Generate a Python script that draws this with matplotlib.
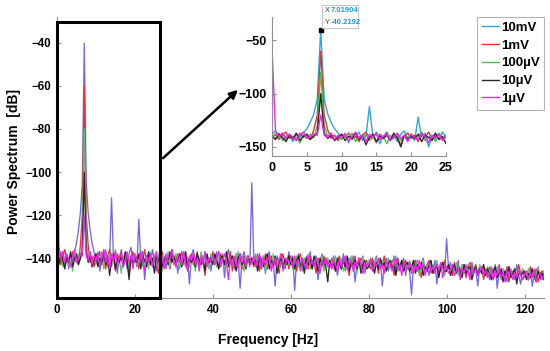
import numpy as np
import matplotlib
matplotlib.use("Agg")
import matplotlib.pyplot as plt
from matplotlib.patches import Rectangle

plt.rcParams['font.family'] = ['Liberation Sans', 'DejaVu Sans']
plt.rcParams['font.weight'] = 'bold'

# frequency grid, 0.5 Hz bins from 0 to 125 Hz
freq = np.linspace(0, 125, 251)

labels = ['10mV', '1mV', '100µV', '10µV', '1µV']

# power spectra in dB (10 Hz per row)
spec_10mV = [
    -138, -135, -141, -137, -143, -139, -145, -138, -141, -137, -133, -127, -119, -105, -40.2192, -105, -119, -127, -133, -137,
    -142, -137, -146, -139, -141, -136, -144, -140, -112, -141, -138, -147, -140, -136, -143, -139, -145, -138, -135, -142,
    -139, -144, -122, -141, -137, -150, -140, -138, -143, -136, -141, -146, -139, -137, -142, -140, -145, -138, -141, -136,
    -143, -139, -147, -138, -141, -137, -144, -140, -152, -139, -136, -142, -139, -145, -138, -141, -137, -143, -140, -146,
    -139, -142, -137, -144, -141, -138, -149, -140, -136, -143, -139, -145, -138, -141, -154, -140, -137, -142, -139, -144,
    -105, -140, -143, -138, -145, -141, -139, -147, -140, -137, -144, -141, -153, -139, -142, -138, -146, -140, -143, -137,
    -142, -139, -155, -141, -138, -144, -140, -146, -139, -143, -137, -145, -141, -139, -150, -142, -138, -144, -140, -143,
    -141, -145, -139, -143, -148, -140, -144, -138, -146, -142, -140, -144, -139, -151, -143, -141, -145, -139, -147, -142,
    -144, -140, -146, -142, -139, -145, -141, -153, -143, -140, -146, -142, -144, -139, -147, -141, -145, -143, -140, -148,
    -142, -146, -157, -143, -145, -141, -147, -143, -140, -146, -144, -148, -142, -145, -141, -152, -144, -146, -142, -147,
    -131, -145, -142, -148, -144, -146, -141, -150, -145, -143, -147, -144, -149, -142, -146, -145, -153, -144, -147, -143,
    -148, -145, -150, -144, -147, -143, -154, -146, -149, -145, -147, -151, -144, -148, -146, -150, -143, -148, -152, -145,
    -149, -146, -150, -145, -153, -147, -149, -144, -150, -146, -148,
]
spec_1mV = [
    -141, -138, -143, -139, -136, -142, -140, -144, -137, -141, -139, -143, -134, -120, -60, -120, -134, -142, -139, -144,
    -138, -141, -137, -143, -140, -145, -139, -136, -142, -140, -146, -138, -141, -137, -144, -139, -142, -148, -140, -137,
    -142, -139, -145, -138, -141, -136, -143, -140, -138, -144, -139, -142, -147, -140, -137, -143, -139, -141, -145, -138,
    -140, -144, -138, -142, -137, -143, -139, -146, -140, -138, -143, -141, -137, -144, -140, -142, -148, -139, -143, -141,
    -137, -143, -140, -145, -138, -141, -144, -139, -142, -137, -146, -140, -143, -138, -141, -145, -139, -142, -140, -143,
    -140, -144, -139, -142, -146, -140, -143, -138, -145, -141, -139, -144, -142, -140, -147, -141, -138, -143, -140, -145,
    -139, -143, -141, -146, -140, -138, -144, -142, -140, -145, -139, -143, -141, -147, -140, -142, -144, -139, -143, -141,
    -144, -140, -143, -146, -141, -139, -145, -142, -140, -144, -148, -141, -143, -139, -145, -142, -140, -146, -143, -141,
    -143, -145, -140, -144, -142, -147, -141, -143, -139, -145, -142, -144, -141, -148, -143, -140, -146, -142, -144, -141,
    -145, -142, -147, -143, -141, -146, -144, -149, -142, -145, -143, -141, -147, -144, -146, -142, -148, -143, -145, -141,
    -146, -143, -145, -148, -142, -146, -144, -147, -143, -145, -149, -144, -142, -147, -145, -143, -148, -146, -144, -150,
    -145, -148, -144, -147, -150, -145, -147, -143, -149, -146, -148, -144, -151, -146, -147, -145, -149, -143, -147, -150,
    -148, -146, -150, -144, -147, -149, -145, -151, -147, -146, -149,
]
spec_100uV = [
    -139, -142, -137, -144, -140, -138, -143, -141, -146, -139, -142, -138, -141, -130, -80, -130, -140, -137, -143, -140,
    -143, -139, -141, -137, -145, -140, -142, -138, -144, -141, -136, -143, -140, -147, -139, -142, -138, -144, -140, -141,
    -138, -143, -140, -136, -144, -141, -139, -145, -137, -142, -140, -143, -138, -141, -146, -139, -142, -137, -144, -140,
    -142, -138, -141, -145, -139, -143, -137, -140, -144, -141, -138, -146, -140, -142, -137, -143, -139, -141, -145, -138,
    -141, -139, -144, -137, -142, -140, -145, -138, -143, -141, -139, -144, -140, -137, -143, -141, -146, -139, -142, -140,
    -143, -140, -138, -145, -141, -143, -139, -146, -142, -140, -144, -138, -143, -141, -145, -139, -142, -144, -140, -143,
    -140, -145, -142, -139, -144, -141, -146, -140, -143, -138, -145, -142, -140, -144, -141, -143, -139, -146, -142, -140,
    -143, -141, -145, -139, -144, -142, -140, -146, -143, -141, -144, -139, -145, -142, -147, -141, -143, -140, -145, -142,
    -141, -144, -142, -146, -140, -143, -145, -141, -147, -143, -140, -145, -142, -144, -139, -146, -143, -141, -145, -143,
    -144, -141, -146, -143, -145, -142, -148, -144, -141, -146, -143, -145, -142, -147, -144, -141, -146, -144, -143, -148,
    -145, -143, -147, -144, -146, -142, -148, -145, -143, -147, -144, -146, -143, -149, -145, -144, -147, -143, -146, -145,
    -147, -144, -149, -146, -145, -148, -144, -147, -150, -145, -148, -146, -144, -149, -147, -145, -150, -146, -148, -145,
    -147, -149, -145, -148, -146, -150, -147, -145, -149, -147, -146,
]
spec_10uV = [
    -140, -143, -138, -141, -145, -139, -142, -137, -144, -140, -138, -143, -140, -137, -100, -137, -142, -139, -144, -141,
    -138, -144, -140, -142, -137, -143, -139, -148, -141, -138, -145, -140, -142, -139, -144, -137, -141, -150, -139, -143,
    -140, -142, -138, -145, -139, -141, -144, -137, -143, -140, -147, -139, -142, -138, -144, -141, -139, -143, -137, -142,
    -139, -143, -140, -138, -144, -141, -137, -145, -140, -142, -139, -144, -138, -141, -143, -140, -146, -138, -142, -140,
    -143, -138, -141, -145, -140, -139, -143, -137, -144, -141, -139, -142, -146, -140, -138, -143, -141, -145, -139, -142,
    -140, -143, -141, -146, -139, -142, -144, -140, -138, -145, -141, -143, -139, -147, -142, -140, -144, -141, -143, -139,
    -143, -140, -145, -141, -139, -144, -142, -147, -140, -143, -141, -145, -139, -142, -146, -140, -143, -141, -144, -151,
    -141, -144, -142, -146, -140, -143, -145, -141, -144, -139, -146, -142, -143, -141, -145, -140, -147, -143, -141, -145,
    -144, -141, -143, -147, -142, -145, -140, -144, -142, -146, -143, -141, -145, -143, -148, -142, -144, -141, -146, -143,
    -142, -146, -144, -141, -147, -143, -145, -142, -148, -144, -146, -143, -141, -147, -145, -143, -149, -144, -142, -146,
    -146, -143, -148, -145, -143, -147, -144, -146, -149, -143, -147, -145, -144, -150, -146, -144, -148, -145, -147, -143,
    -148, -145, -147, -150, -146, -144, -149, -147, -145, -151, -146, -148, -144, -149, -147, -145, -152, -146, -148, -147,
    -146, -150, -147, -149, -145, -148, -151, -146, -149, -147, -150,
]
spec_1uV = [
    -57, -135, -140, -137, -142, -138, -141, -144, -139, -136, -142, -140, -138, -139, -120, -139, -141, -137, -143, -139,
    -141, -138, -144, -140, -136, -142, -139, -145, -138, -141, -137, -143, -140, -138, -144, -141, -137, -142, -139, -145,
    -138, -141, -143, -137, -140, -146, -139, -142, -138, -144, -140, -137, -143, -141, -139, -145, -138, -142, -140, -136,
    -141, -144, -138, -140, -143, -137, -142, -145, -139, -141, -138, -143, -140, -146, -139, -142, -137, -144, -140, -141,
    -139, -143, -140, -137, -144, -141, -138, -142, -150, -140, -143, -139, -141, -145, -138, -142, -140, -144, -139, -141,
    -142, -139, -144, -141, -138, -145, -140, -143, -141, -139, -146, -142, -140, -144, -141, -138, -143, -145, -140, -142,
    -141, -144, -139, -143, -141, -146, -140, -142, -145, -139, -143, -141, -144, -140, -142, -147, -141, -143, -140, -144,
    -142, -145, -141, -143, -146, -140, -144, -142, -139, -145, -143, -141, -146, -142, -144, -140, -143, -147, -142, -144,
    -143, -141, -146, -142, -144, -140, -145, -143, -147, -141, -144, -142, -146, -143, -140, -145, -143, -148, -142, -144,
    -145, -142, -144, -147, -143, -146, -141, -145, -143, -148, -144, -142, -146, -144, -147, -143, -145, -142, -149, -144,
    -144, -147, -145, -143, -148, -146, -144, -149, -145, -147, -143, -146, -150, -144, -147, -145, -148, -146, -144, -147,
    -146, -149, -147, -145, -150, -146, -148, -144, -149, -147, -151, -146, -148, -145, -150, -147, -149, -146, -148, -150,
    -148, -146, -150, -147, -149, -145, -151, -148, -147, -150, -148,
]
spectra = [spec_10mV, spec_1mV, spec_100uV, spec_10uV, spec_1uV]

# data tip on the strongest peak
tip_x = 7.01904
tip_y = -40.2192

main_colors = ['#7466f0', '#e8322c', '#5cc85c', '#2a2a2a', '#ff1aff']
inset_colors = ['#2aa6e0', '#e8322c', '#44c044', '#2a2a2a', '#ff1aff']

fig = plt.figure(figsize=(5.5, 3.51), dpi=100)
ax = fig.add_axes([57/550, 1-298/351, 487/550, 281/351])

for s, c, lab in zip(spectra, main_colors, labels):
    ax.plot(freq, s, color=c, lw=0.95, label=lab)

ax.set_xlim(0, 125)
ax.set_ylim(-158.5, -28)
ax.set_xticks([0, 20, 40, 60, 80, 100, 120])
ax.set_yticks([-140, -120, -100, -80, -60, -40])
for side in ['top', 'right']:
    ax.spines[side].set_visible(False)
for side in ['left', 'bottom']:
    ax.spines[side].set_color('#909090')
ax.tick_params(direction='in', length=3, color='#909090', labelsize=8.3, pad=4)
for t in ax.get_xticklabels() + ax.get_yticklabels():
    t.set_fontweight('bold')

fig.text(268/550, 1-340/351, 'Frequency [Hz]', ha='center', va='center', fontsize=10, fontweight='bold')
fig.text(14/550, 1-161/351, 'Power Spectrum  [dB]', ha='center', va='center', rotation=90,
         fontsize=10, fontweight='bold')

# zoom box around the 0-26 Hz region
ax.add_patch(Rectangle((0, -158.5), 26.4, 128.2, fill=False, ec='black', lw=2.2,
                       clip_on=False, zorder=5))
ax.annotate('', xy=(240/550, 1-88/351), xycoords='figure fraction',
            xytext=(161/550, 1-160/351), textcoords='figure fraction',
            arrowprops=dict(arrowstyle='-|>', color='black', lw=1.8, mutation_scale=12))

# inset
axi = fig.add_axes([272/550, 1-156/351, 174/550, 139/351])
for s, c in zip(spectra, inset_colors):
    axi.plot(freq, s, color=c, lw=1.0)
axi.set_xlim(0, 25)
axi.set_ylim(-158.5, -28)
axi.set_xticks([0, 5, 10, 15, 20, 25])
axi.set_yticks([-150, -100, -50])
for side in ['top', 'right']:
    axi.spines[side].set_visible(False)
for side in ['left', 'bottom']:
    axi.spines[side].set_color('#909090')
axi.tick_params(direction='in', length=3, color='#909090', labelsize=9, pad=4)
for t in axi.get_xticklabels() + axi.get_yticklabels():
    t.set_fontweight('bold')
axi.plot([tip_x], [tip_y], 's', color='black', ms=2.5, zorder=6)

# data tip box
fig.patches.append(Rectangle((322/550, 1-28/351), 36/550, 23/351, transform=fig.transFigure,
                             fc='white', ec='#c8c8c8', lw=0.8, figure=fig))
fig.text(325/550, 1-11/351, 'X', fontsize=5.5, color='#404040', va='center', fontweight='normal')
fig.text(331/550, 1-11/351, f'{tip_x:.5f}', fontsize=5.5, color='#1a9ad6', va='center', fontweight='bold')
fig.text(325/550, 1-22/351, 'Y', fontsize=5.5, color='#404040', va='center', fontweight='normal')
fig.text(331/550, 1-22/351, f'{tip_y:.4f}', fontsize=5.5, color='#1a9ad6', va='center', fontweight='bold')

leg_handles = [plt.Line2D([], [], color=c, lw=1) for c in inset_colors]
leg = fig.legend(leg_handles, labels, loc='upper right', bbox_to_anchor=(544/550, 1-17/351),
                 frameon=True, fancybox=False, edgecolor='#a0a0a0', fontsize=9.5,
                 handlelength=1.3, handletextpad=0.15, labelspacing=0.42, borderpad=0.35,
                 borderaxespad=0)
leg.get_frame().set_linewidth(0.8)
for t in leg.get_texts():
    t.set_fontweight('bold')

fig.savefig('out.png', dpi=100)
